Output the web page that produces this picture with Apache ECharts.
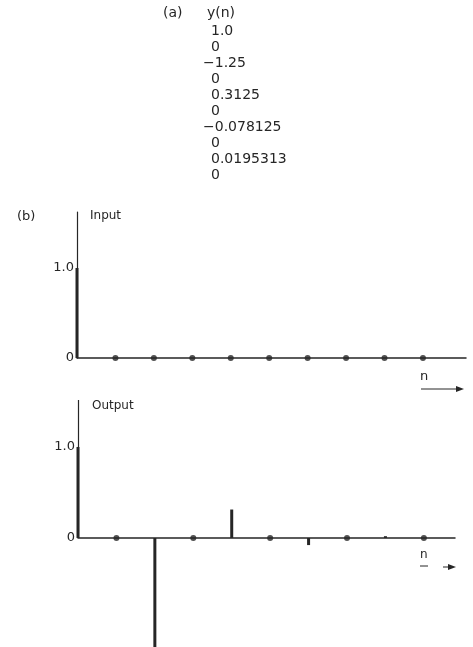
<!DOCTYPE html>
<html lang="en">
<head>
    <meta charset="UTF-8">
    <title>Input / Output</title>
    <script src="https://cdn.jsdelivr.net/npm/echarts@6/dist/echarts.min.js"></script>
    <style>
        html, body { margin: 0; padding: 0; background: #fff; }
        #main { width: 473px; height: 647px; }
    </style>
</head>
<body>
<div id="main"></div>
<script>
    // data
    var nValues = [0, 1, 2, 3, 4, 5, 6, 7, 8, 9];
    var inputValues = [1.0, 0, 0, 0, 0, 0, 0, 0, 0, 0];
    var outputValues = [1.0, 0, -1.25, 0, 0.3125, 0, -0.078125, 0, 0.0195313, 0];
    var tableLabels = ['1.0', '0', '-1.25', '0', '0.3125', '0', '-0.078125', '0', '0.0195313', '0'];
    var yTicks = [0, 1.0];

    var ink = '#262626';
    var font = 'DejaVu Sans';

    function stems(vals) {
        return vals.map(function (v, i) { return [nValues[i], v]; });
    }
    function zeroDots(vals) {
        var out = [];
        vals.forEach(function (v, i) { if (v === 0 && i > 0) out.push([nValues[i], 0]); });
        return out;
    }

    // table (a) + labels
    var graphics = [
        {type: 'text', left: 163, top: 6, style: {text: '(a)', font: '14px ' + font, fill: ink}},
        {type: 'text', left: 207, top: 6, style: {text: 'y(n)', font: '14px ' + font, fill: ink}},
        {type: 'text', left: 17, top: 210, style: {text: '(b)', font: '13px ' + font, fill: ink}},
        {type: 'text', left: 90, top: 210, style: {text: 'Input', font: '12px ' + font, fill: ink}},
        {type: 'text', left: 92, top: 400, style: {text: 'Output', font: '12px ' + font, fill: ink}},
        // n arrows
        {type: 'text', left: 420, top: 370, style: {text: 'n', font: '13px ' + font, fill: ink}},
        {type: 'line', shape: {x1: 421, y1: 389, x2: 458, y2: 389}, style: {stroke: ink, lineWidth: 1}},
        {type: 'polygon', shape: {points: [[464, 389], [456, 386], [456, 392]]}, style: {fill: ink}},
        {type: 'text', left: 420, top: 549, style: {text: 'n', font: '12px ' + font, fill: ink}},
        {type: 'line', shape: {x1: 420, y1: 566, x2: 428, y2: 566}, style: {stroke: ink, lineWidth: 1}},
        {type: 'line', shape: {x1: 443, y1: 567, x2: 450, y2: 567}, style: {stroke: ink, lineWidth: 1}},
        {type: 'polygon', shape: {points: [[456, 567], [448, 564], [448, 570]]}, style: {fill: ink}}
    ];
    tableLabels.forEach(function (s, i) {
        graphics.push({
            type: 'text',
            left: s.charAt(0) === '-' ? 203 : 211,
            top: 24 + i * 16,
            style: {text: s.replace('-', '\u2212'), font: '14px ' + font, fill: ink}
        });
    });

    var myChart = echarts.init(document.getElementById('main'));

    var option = {
        backgroundColor: '#fff',
        animation: false,
        graphic: graphics,
        grid: [
            {left: 77, top: 212, width: 389, height: 146},
            {left: 78, top: 400, width: 377, height: 247}
        ],
        xAxis: [
            {gridIndex: 0, type: 'value', min: 0, max: 10.12,
                axisLine: {show: true, onZero: true, lineStyle: {color: ink, width: 1.5}},
                axisTick: {show: false}, axisLabel: {show: false}, splitLine: {show: false}},
            {gridIndex: 1, type: 'value', min: 0, max: 9.81,
                axisLine: {show: true, onZero: true, lineStyle: {color: ink, width: 1.5}},
                axisTick: {show: false}, axisLabel: {show: false}, splitLine: {show: false}}
        ],
        yAxis: [
            {gridIndex: 0, type: 'value', min: 0, max: 1.622,
                axisLine: {show: true, lineStyle: {color: ink, width: 1.2}},
                axisTick: {show: false}, splitLine: {show: false},
                axisLabel: {customValues: yTicks, margin: 3, color: ink, fontSize: 13, fontFamily: font,
                    formatter: function (v) { return v === 0 ? '0' : v.toFixed(1); }}},
            {gridIndex: 1, type: 'value', min: -1.198, max: 1.516,
                axisLine: {show: false},
                axisTick: {show: false}, splitLine: {show: false},
                axisLabel: {customValues: yTicks, margin: 3, color: ink, fontSize: 13, fontFamily: font,
                    formatter: function (v) { return v === 0 ? '0' : v.toFixed(1); }}}
        ],
        series: [
            {
                name: 'Input', type: 'bar', xAxisIndex: 0, yAxisIndex: 0,
                barWidth: 3, itemStyle: {color: ink},
                data: stems(inputValues)
            },
            {
                name: 'Input zeros', type: 'scatter', xAxisIndex: 0, yAxisIndex: 0,
                symbolSize: 6, itemStyle: {color: ink},
                data: zeroDots(inputValues)
            },
            {
                name: 'Output', type: 'bar', xAxisIndex: 1, yAxisIndex: 1,
                barWidth: 3, clip: false, itemStyle: {color: ink},
                data: stems(outputValues),
                markLine: {
                    silent: true, symbol: 'none', label: {show: false},
                    lineStyle: {type: 'solid', color: ink, width: 1.2},
                    data: [[{coord: [0, 0]}, {coord: [0, 1.516]}]]
                }
            },
            {
                name: 'Output zeros', type: 'scatter', xAxisIndex: 1, yAxisIndex: 1,
                symbolSize: 6, itemStyle: {color: ink},
                data: zeroDots(outputValues)
            }
        ]
    };

    myChart.setOption(option);
</script>
</body>
</html>
